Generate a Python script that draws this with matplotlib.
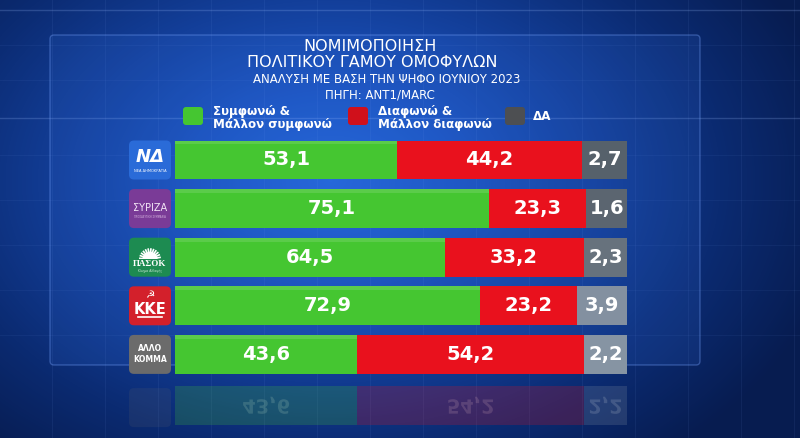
import numpy as np
import matplotlib
matplotlib.use("Agg")
import matplotlib.pyplot as plt
from matplotlib.patches import FancyBboxPatch, PathPatch, Wedge
from matplotlib.colors import LinearSegmentedColormap
from matplotlib.textpath import TextPath
from matplotlib.font_manager import FontProperties
from matplotlib.transforms import Affine2D

# data
parties = ["ΝΔ", "ΣΥΡΙΖΑ", "ΠΑΣΟΚ", "ΚΚΕ", "ΑΛΛΟ ΚΟΜΜΑ"]
agree = [53.1, 75.1, 64.5, 72.9, 43.6]
disagree = [44.2, 23.3, 33.2, 23.2, 54.2]
dont_know = [2.7, 1.6, 2.3, 3.9, 2.2]

title_lines = ["ΝΟΜΙΜΟΠΟΙΗΣΗ",
               "ΠΟΛΙΤΙΚΟΥ ΓΑΜΟΥ ΟΜΟΦΥΛΩΝ",
               "ΑΝΑΛΥΣΗ ΜΕ ΒΑΣΗ ΤΗΝ ΨΗΦΟ ΙΟΥΝΙΟΥ 2023",
               "ΠΗΓΗ: ANT1/MARC"]
legend_labels = ["Συμφωνώ &\nΜάλλον συμφωνώ", "Διαφωνώ &\nΜάλλον διαφωνώ", "ΔΑ"]

# styles
GREEN = "#45c631"
RED = "#e9111d"
DA_COLORS = ["#56616b", "#5b6570", "#67727d", "#8390a0", "#8694a3"]
LOGO_COLORS = ["#2a6bd8", "#7a3b97", "#1d8b51", "#d3202b", "#6b6b6b"]
FONT = "DejaVu Sans"
X_MAX = 108.1


def fmt(v):
    return f"{v:.1f}".replace(".", ",")


fig = plt.figure(figsize=(8, 4.38), dpi=100)

# background in pixel coordinates
bg = fig.add_axes([0, 0, 1, 1])
bg.set_xlim(0, 800)
bg.set_ylim(438, 0)
bg.axis("off")

yy, xx = np.mgrid[0:438, 0:800]
dist = np.sqrt(((xx - 330) / 520.0) ** 2 + ((yy - 180) / 360.0) ** 2)
bg_cmap = LinearSegmentedColormap.from_list(
    "bg", ["#2466d8", "#1c54c0", "#133f9a", "#0b2b72", "#071c50"])
bg.imshow(np.clip(dist, 0, 1), cmap=bg_cmap, extent=[0, 800, 438, 0],
          aspect="auto", zorder=0)

# faint grid
for gx in np.arange(52, 800, 53):
    bg.axvline(gx, color="#8fb4ff", alpha=0.07, lw=0.8, zorder=1)
for gy in [45, 80, 155, 200, 245, 290, 335]:
    bg.axhline(gy, color="#8fb4ff", alpha=0.06, lw=0.8, zorder=1)
bg.axhline(10, color="#9fc0ff", alpha=0.22, lw=1, zorder=1)
bg.axhline(118, color="#9fc0ff", alpha=0.22, lw=1, zorder=1)

# panel
bg.add_patch(FancyBboxPatch((50, 35), 650, 330, boxstyle="round,pad=0,rounding_size=4",
                            facecolor="#3a78ea", alpha=0.13, edgecolor="none", zorder=1))
bg.add_patch(FancyBboxPatch((50, 35), 650, 330, boxstyle="round,pad=0,rounding_size=4",
                            facecolor="none", edgecolor="#7aa6ff", alpha=0.35, lw=1, zorder=1))

# title
title_pos = [(370, 46.5, 11.5), (372, 62.5, 11.5), (387, 79.5, 8.5), (380, 95, 8.5)]
for line, (tx, ty, fs) in zip(title_lines, title_pos):
    bg.text(tx, ty, line, ha="center", va="center", color="white",
            fontsize=fs, family=FONT, zorder=5)

# legend
leg_x = [(183, 213), (348, 378), (505, 533)]
leg_colors = [GREEN, "#d0101b", "#4d4f52"]
for (sx, tx), col, lab in zip(leg_x, leg_colors, legend_labels):
    bg.add_patch(FancyBboxPatch((sx, 107), 20, 18, boxstyle="round,pad=0,rounding_size=3",
                                facecolor=col, edgecolor="none", zorder=5))
    bg.text(tx, 118 if "\n" in lab else 116, lab, ha="left", va="center", color="white",
            fontsize=8.6, weight="bold", family=FONT, linespacing=0.92, zorder=5)

# bars
ax = fig.add_axes([175 / 800, 1 - 378.7 / 438, 452 / 800, 243 / 438])
ax.set_xlim(0, X_MAX)
ax.set_ylim(4.5, -0.5)
ax.axis("off")
ax.patch.set_alpha(0)

y = np.arange(len(parties))
a = np.array(agree)
d = np.array(disagree)
rest = a + d
ax.barh(y, a, height=0.8, color=GREEN, zorder=3)
ax.barh(y, d, left=a, height=0.8, color=RED, zorder=3)
ax.barh(y, X_MAX - rest, left=rest, height=0.8, color=DA_COLORS, zorder=3)
# top highlight
ax.barh(y - 0.36, a, height=0.08, color="white", alpha=0.12, zorder=4)

for i in range(len(parties)):
    ax.text(a[i] / 2, i, fmt(agree[i]), ha="center", va="center", color="white",
            fontsize=14, weight="bold", family=FONT, zorder=5)
    ax.text(a[i] + d[i] / 2, i, fmt(disagree[i]), ha="center", va="center", color="white",
            fontsize=14, weight="bold", family=FONT, zorder=5)
    ax.text((rest[i] + X_MAX) / 2, i, fmt(dont_know[i]), ha="center", va="center",
            color="white", fontsize=14, weight="bold", family=FONT, zorder=5)

# reflection of the last row only
last = len(parties) - 1
refl = fig.add_axes([175 / 800, 1 - (381 + 243) / 438, 452 / 800, 243 / 438])
refl.set_xlim(0, X_MAX)
refl.set_ylim(-0.5, 4.5)
refl.axis("off")
refl.patch.set_alpha(0)
refl.barh([last], [a[last]], height=0.8, color=GREEN, alpha=0.22)
refl.barh([last], [d[last]], left=[a[last]], height=0.8, color=RED, alpha=0.22)
refl.barh([last], [X_MAX - rest[last]], left=[rest[last]], height=0.8,
          color=DA_COLORS[last], alpha=0.22)


def to_px(axis, x, yv):
    disp = axis.transData.transform((x, yv))
    return bg.transData.inverted().transform(disp)


fp = FontProperties(family=FONT, weight="bold")
for val, cx in [(agree[last], a[last] / 2), (disagree[last], a[last] + d[last] / 2),
                (dont_know[last], (rest[last] + X_MAX) / 2)]:
    px, py = to_px(refl, cx, last)
    tp = TextPath((0, 0), fmt(val), size=19.4, prop=fp)
    bb = tp.get_extents()
    tr = Affine2D().translate(-bb.x0 - bb.width / 2, -bb.y0 - bb.height / 2).translate(px, py)
    bg.add_patch(PathPatch(tr.transform_path(tp), facecolor="white", edgecolor="none",
                           alpha=0.16, zorder=3))

# party logos
centers = [to_px(ax, 0, i)[1] for i in range(len(parties))]
for i, cy in enumerate(centers):
    bg.add_patch(FancyBboxPatch((129, cy - 19.5), 42, 39,
                                boxstyle="round,pad=0,rounding_size=5",
                                facecolor=LOGO_COLORS[i], edgecolor="none", zorder=5))

cy = centers[0]
bg.text(150, cy - 3, "ΝΔ", ha="center", va="center", color="white", fontsize=13,
        weight="bold", style="italic", family=FONT, zorder=6)
bg.text(150, cy + 11, "ΝΕΑ ΔΗΜΟΚΡΑΤΙΑ", ha="center", va="center", color="white",
        fontsize=2.6, family=FONT, zorder=6)

cy = centers[1]
bg.text(150, cy - 1, "ΣΥΡΙΖΑ", ha="center", va="center", color="#f3e6f5", fontsize=7,
        family=FONT, zorder=6)
bg.text(150, cy + 8, "ΠΡΟΟΔΕΥΤΙΚΗ ΣΥΜΜΑΧΙΑ", ha="center", va="center", color="#d9b8e0",
        fontsize=1.8, family=FONT, zorder=6)

cy = centers[2]
for ang in np.arange(185, 360, 15):
    r = np.radians(ang)
    bg.plot([150, 150 + 11 * np.cos(r)], [cy + 2, cy + 2 + 11 * np.sin(r)],
            color="white", lw=1.2, zorder=6, solid_capstyle="butt")
bg.add_patch(Wedge((150, cy + 2), 7.5, 180, 360, facecolor="white", edgecolor="none", zorder=6))
bg.text(150, cy + 6.5, "ΠΑΣΟΚ", ha="center", va="center", color="white", fontsize=6.5,
        weight="bold", family="Liberation Serif", zorder=7,
        bbox=dict(boxstyle="square,pad=0.05", facecolor=LOGO_COLORS[2], edgecolor="none"))
bg.text(150, cy + 13.5, "Κίνημα Αλλαγής", ha="center", va="center", color="#cfe8d8",
        fontsize=2.2, family=FONT, zorder=7)

cy = centers[3]
bg.text(150, cy - 10.5, "☭", ha="center", va="center", color="white", fontsize=7.5,
        family=FONT, zorder=6)
bg.text(150, cy + 3.5, "ΚΚΕ", ha="center", va="center", color="white", fontsize=10.5,
        weight="bold", family=FONT, zorder=6)
bg.plot([138, 162], [cy + 11.5, cy + 11.5], color="white", lw=1.2, zorder=6)

cy = centers[4]
bg.text(150, cy, "ΑΛΛΟ\nΚΟΜΜΑ", ha="center", va="center", color="white", fontsize=5.5,
        weight="bold", family=FONT, linespacing=1.3, zorder=6)
# faint logo reflection
bg.add_patch(FancyBboxPatch((129, 2 * 381 - cy - 19.5), 42, 39,
                            boxstyle="round,pad=0,rounding_size=5",
                            facecolor=LOGO_COLORS[4], alpha=0.15, edgecolor="none", zorder=2))

fig.savefig("out.png", dpi=100)
